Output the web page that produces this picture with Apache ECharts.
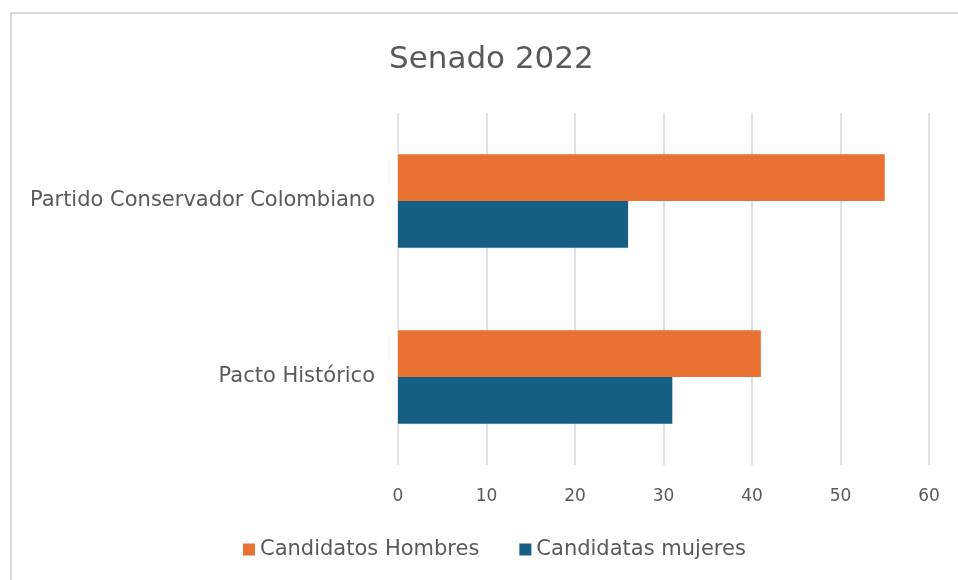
<!DOCTYPE html>
<html>
<head>
<meta charset="utf-8">
<script src="https://cdn.jsdelivr.net/npm/echarts@6/dist/echarts.min.js"></script>
<style>
  html, body { margin: 0; padding: 0; background: #fff; }
  #chart { width: 958px; height: 580px; }
</style>
</head>
<body>
<div id="chart"></div>
<script>
// categories, bottom to top
const parties = ['Pacto Histórico', 'Partido Conservador Colombiano']
const hombres = [41, 55]
const mujeres = [31, 26]
const xTicks = [0, 10, 20, 30, 40, 50, 60]

const textColor = '#595959'
const font = 'DejaVu Sans'

const chart = echarts.init(document.getElementById('chart'))
chart.setOption({
  backgroundColor: '#fff',
  animation: false,
  title: {
    text: 'Senado 2022',
    left: 384,
    top: 39,
    textStyle: { color: textColor, fontSize: 31, fontWeight: 'normal', fontFamily: font }
  },
  graphic: [{
    type: 'rect',
    shape: { x: 11, y: 13, width: 1000, height: 640 },
    style: { fill: 'none', stroke: '#d9d9d9', lineWidth: 2 },
    silent: true
  }],
  legend: {
    data: ['Candidatos Hombres', 'Candidatas mujeres'],
    bottom: 15,
    left: 238,
    icon: 'rect',
    itemWidth: 12,
    itemHeight: 12,
    itemGap: 40,
    textStyle: { color: textColor, fontSize: 21, fontFamily: font }
  },
  grid: { left: 398, right: 29, top: 113, bottom: 115 },
  xAxis: {
    type: 'value',
    min: xTicks[0],
    max: xTicks[xTicks.length - 1],
    interval: 10,
    axisLine: { show: false },
    axisTick: { show: false },
    axisLabel: { color: textColor, fontSize: 17, margin: 23, fontFamily: font },
    splitLine: { lineStyle: { color: '#d9d9d9', width: 1.5 } }
  },
  yAxis: {
    type: 'category',
    data: parties,
    axisLine: { show: false },
    axisTick: { show: false },
    axisLabel: { color: textColor, fontSize: 21, margin: 23, fontFamily: font }
  },
  series: [
    {
      name: 'Candidatos Hombres',
      type: 'bar',
      data: hombres,
      barGap: '0%',
      barCategoryGap: '47%',
      itemStyle: { color: '#E97132' }
    },
    {
      name: 'Candidatas mujeres',
      type: 'bar',
      data: mujeres,
      barGap: '0%',
      barCategoryGap: '47%',
      itemStyle: { color: '#156082' }
    }
  ]
})
</script>
</body>
</html>
